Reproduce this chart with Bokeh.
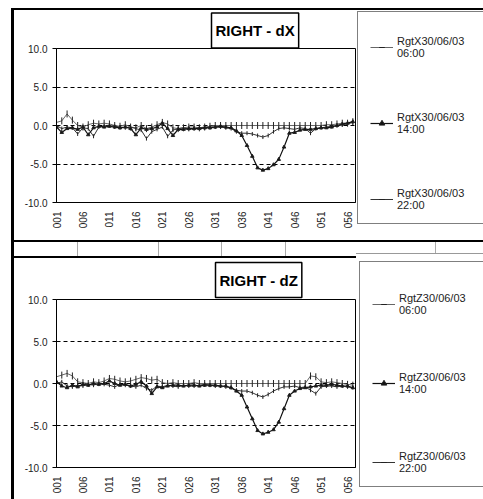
from math import pi
from bokeh.plotting import figure
from bokeh.models import (Range1d, FixedTicker, NumeralTickFormatter, Legend,
                          LegendItem, Title, Div)
from bokeh.layouts import row, column
from bokeh.embed import file_html
from bokeh.resources import INLINE

# ---------------- data ----------------
points = list(range(1, 58))  # measurement points 001..057
x_tick_values = [1, 6, 11, 16, 21, 26, 31, 36, 41, 46, 51, 56]
x_tick_labels = ["001", "006", "011", "016", "021", "026", "031", "036",
                 "041", "046", "051", "056"]
y_ticks = [-10, -5, 0, 5, 10]
series_times = ["06:00", "14:00", "22:00"]

dx_0600 = [0.4, 0.6, 1.5, 0.7, 0.0, -0.2, 0.1, 0.3, 0.2, 0.3,
           0.2, 0.0, -0.1, 0.1, -0.2, -0.3, 0.0, -0.4, -0.2, 0.1,
           0.4, 0.2, -0.3, -0.4, -0.3, -0.2, -0.2, -0.3, -0.2, -0.1,
           0.0, 0.0, 0.0, 0.0, 0.0, 0.0, 0.0, 0.0, 0.0, 0.0,
           0.0, 0.0, 0.0, 0.0, 0.0, 0.0, 0.0, 0.0, 0.0, 0.0,
           0.0, 0.1, 0.1, 0.2, 0.3, 0.3, 0.5]
dx_1400 = [-0.2, -0.9, -0.4, -0.3, -0.5, -0.2, -1.2, -0.3, -0.1, -0.2,
           -0.1, -0.2, -0.3, -0.2, -0.4, -1.2, -0.3, -0.5, -0.4, -0.2,
           0.3, -0.4, -1.3, -0.5, -0.5, -0.4, -0.4, -0.4, -0.3, -0.3,
           -0.2, -0.1, -0.2, -0.3, -0.7, -1.3, -2.6, -4.0, -5.5, -5.8,
           -5.6, -5.1, -4.4, -2.8, -1.0, -0.9, -0.6, -0.5, -0.5, -0.4,
           -0.3, -0.3, -0.2, 0.0, 0.2, 0.3, 0.5]
dx_2200 = [0.0, -0.4, -0.2, -0.3, -1.1, -0.3, -0.4, -1.4, -0.2, -0.1,
           0.0, -0.1, -0.2, -0.3, -0.2, -0.4, -0.6, -1.7, -0.8, -0.5,
           -0.2, -1.4, -0.6, -0.4, -0.3, -0.5, -0.4, -0.3, -0.3, -0.2,
           -0.2, -0.2, -0.3, -0.4, -0.8, -1.0, -1.0, -1.1, -1.3, -1.5,
           -1.3, -0.8, -0.4, -0.3, -0.4, -0.5, -0.3, -0.4, -1.0, -0.4,
           -0.3, -0.2, -0.1, 0.0, 0.1, 0.2, 0.4]

dz_0600 = [0.8, 1.0, 1.2, 0.9, 0.2, 0.1, 0.0, 0.2, 0.1, 0.3,
           0.6, 0.5, 0.3, 0.2, 0.3, 0.5, 0.7, 0.6, 0.4, 0.5,
           0.1, 0.0, 0.1, 0.0, 0.0, 0.0, 0.1, 0.0, 0.0, 0.0,
           0.0, 0.0, 0.0, 0.0, 0.0, 0.0, 0.0, 0.0, 0.0, 0.0,
           0.0, 0.0, 0.0, 0.0, 0.0, 0.0, 0.0, 0.0, 0.9, 0.8,
           0.2, 0.1, 0.2, 0.1, 0.0, -0.1, -0.2]
dz_1400 = [0.2, -0.3, -0.5, -0.2, -0.4, -0.1, -0.2, 0.0, -0.1, 0.0,
           0.3, 0.0, -0.2, -0.1, -0.3, -0.1, 0.2, -0.3, -1.2, -0.4,
           -0.5, -0.3, -0.2, -0.2, -0.3, -0.2, -0.2, -0.3, -0.2, -0.2,
           -0.2, -0.3, -0.3, -0.5, -0.9, -1.4, -2.8, -4.2, -5.6, -6.0,
           -5.8, -5.5, -4.6, -3.0, -1.4, -0.9, -0.6, -0.5, -0.4, -0.3,
           -0.2, -0.2, -0.1, -0.2, -0.3, -0.3, -0.5]
dz_2200 = [0.0, 0.2, -0.3, -0.4, -0.2, -0.3, -0.1, -0.2, 0.0, -0.1,
           -0.2, -0.4, -0.1, -0.2, -0.3, -0.4, -0.2, -0.6, -0.8, -0.3,
           -0.4, -0.2, -0.3, -0.4, -0.2, -0.3, -0.3, -0.2, -0.1, -0.2,
           -0.3, -0.3, -0.4, -0.5, -0.8, -0.9, -0.9, -1.1, -1.4, -1.6,
           -1.3, -0.9, -0.6, -0.4, -0.4, -0.3, -0.5, -0.4, -0.8, -1.2,
           -0.4, -0.3, -0.3, -0.4, -0.3, -0.4, -0.5]

FONT = "Liberation Sans"
NAN = float("nan")

# series styles: (line colour, line width, marker, marker size, angle)
STYLES = [("#666666", 1.0, "dash", 7, pi / 2),
          ("#111111", 1.2, "triangle", 3.5, 0.0),
          ("#333333", 1.0, "dash", 4, pi / 2)]


def add_series(p, xs, ys, style):
    color, lw, marker, size, angle = style
    ln = p.line(xs, ys, line_color=color, line_width=lw)
    mk = p.scatter(xs, ys, marker=marker, size=size, angle=angle,
                   line_color="#222222", fill_color="#111111", line_width=1)
    return ln, mk


def make_panel(title, series, height, btop, bbottom, title_offset,
               title_standoff):
    p = figure(width=342, height=height, output_backend="svg",
               toolbar_location=None, x_range=Range1d(1, 57.5),
               y_range=Range1d(-10, 10), min_border_left=42,
               min_border_right=1, min_border_top=btop,
               min_border_bottom=bbottom)
    p.background_fill_color = "white"
    p.border_fill_color = "white"
    p.outline_line_color = "black"
    p.outline_line_width = 1

    ya = p.yaxis[0]
    ya.ticker = FixedTicker(ticks=y_ticks)
    ya.formatter = NumeralTickFormatter(format="0.0")
    ya.major_label_text_font = FONT
    ya.major_label_text_font_size = "10px"
    ya.major_label_text_color = "#222222"
    ya.axis_line_color = "black"
    ya.major_tick_line_color = "black"
    ya.major_tick_out = 4
    ya.major_tick_in = 0
    ya.minor_tick_line_color = None
    ya.major_label_standoff = 5

    xa = p.xaxis[0]
    xa.ticker = FixedTicker(ticks=x_tick_values)
    xa.major_label_overrides = dict(zip(x_tick_values, x_tick_labels))
    xa.major_label_orientation = pi / 2
    xa.major_label_text_font = FONT
    xa.major_label_text_font_size = "10px"
    xa.major_label_text_color = "#222222"
    xa.axis_line_color = "black"
    xa.major_tick_line_color = None
    xa.minor_tick_line_color = None
    xa.major_tick_out = 0
    xa.major_label_standoff = 9

    p.xgrid.grid_line_color = None
    p.ygrid.ticker = FixedTicker(ticks=y_ticks)
    p.ygrid.grid_line_color = "black"
    p.ygrid.grid_line_dash = "4 3"
    p.ygrid.grid_line_width = 1

    # draw order: 06:00, 22:00, 14:00 on top
    for i in (0, 2, 1):
        add_series(p, points, series[i], STYLES[i])

    p.title = Title(text=title, align="left", offset=title_offset,
                    text_font=FONT, text_font_style="bold",
                    text_font_size="15px", text_color="black",
                    border_line_color="black", border_line_width=1.5,
                    background_fill_color="white", padding=(4, 9),
                    standoff=title_standoff, vertical_align="bottom")
    return p


def make_legend(prefix, height, spacing, title_size, margin):
    q = figure(width=127, height=height, output_backend="svg",
               toolbar_location=None, x_axis_type=None, y_axis_type=None,
               x_range=Range1d(0, 1), y_range=Range1d(0, 1),
               min_border=0)
    q.outline_line_color = None
    q.background_fill_color = "white"
    q.border_fill_color = "white"
    items = []
    for i, t in enumerate(series_times):
        # legend proxies only (no visible data)
        ln, mk = add_series(q, [NAN], [NAN], STYLES[i])
        items.append(LegendItem(label=prefix + "30/06/03\n" + t,
                                renderers=[ln, mk]))
    leg = Legend(items=items, location="top_left", margin=margin,
                 padding=12, spacing=spacing,
                 title=" ", title_text_font_size=title_size,
                 title_standoff=2,
                 glyph_width=23, glyph_height=14, label_standoff=4,
                 label_width=100,
                 label_text_font=FONT, label_text_font_size="11px",
                 label_text_color="#222222", label_text_line_height=1.4,
                 border_line_color="black", border_line_width=1.5,
                 background_fill_color="white", background_fill_alpha=1.0)
    q.add_layout(leg)
    return q


p1 = make_panel("RIGHT - dX", [dx_0600, dx_1400, dx_2200], 230, 38, 38, 155, 1)
p2 = make_panel("RIGHT - dZ", [dz_0600, dz_1400, dz_2200], 241, 41, 32, 159, 4)
lg1 = make_legend("RgtX", 230, 52, "8px", 1)
lg2 = make_legend("RgtZ", 241, 55, "14px", 3)


def line_div(w, h, color):
    return Div(width=w, height=h, margin=0, styles={"background-color": color})


strip_left_html = (
    '<div style="position:relative;width:342px;height:18px;">'
    '<div style="position:absolute;left:0;top:0;width:342px;height:2px;background:#000"></div>'
    '<div style="position:absolute;left:0;top:16px;width:342px;height:2px;background:#000"></div>'
    '<div style="position:absolute;left:63px;top:2px;width:1px;height:14px;background:#aaa"></div>'
    '<div style="position:absolute;left:144px;top:2px;width:1px;height:14px;background:#aaa"></div>'
    '<div style="position:absolute;left:207px;top:2px;width:1px;height:14px;background:#aaa"></div>'
    '<div style="position:absolute;left:271px;top:2px;width:1px;height:14px;background:#aaa"></div>'
    '</div>'
)
strip_right_html = (
    '<div style="position:relative;width:127px;height:18px;">'
    '<div style="position:absolute;left:0;top:0;width:127px;height:2px;background:#000"></div>'
    '<div style="position:absolute;left:0;top:13px;width:127px;height:1px;background:#999"></div>'
    '<div style="position:absolute;left:79px;top:2px;width:1px;height:11px;background:#aaa"></div>'
    '</div>'
)
strip_left = Div(width=342, height=18, margin=0, text=strip_left_html)
strip_right = Div(width=127, height=18, margin=0, text=strip_right_html)

left_col = column(Div(width=11, height=499, margin=0))
bar_col = column(Div(width=3, height=8, margin=0), line_div(3, 491, "black"))
main_col = column(Div(width=342, height=8, margin=0), line_div(342, 2, "black"),
                  p1, strip_left, p2)
legend_col = column(Div(width=127, height=8, margin=0),
                    line_div(127, 2, "black"), lg1, strip_right, lg2)

layout = row(left_col, bar_col, main_col, legend_col)

open("out.html", "w").write(file_html(layout, INLINE))
